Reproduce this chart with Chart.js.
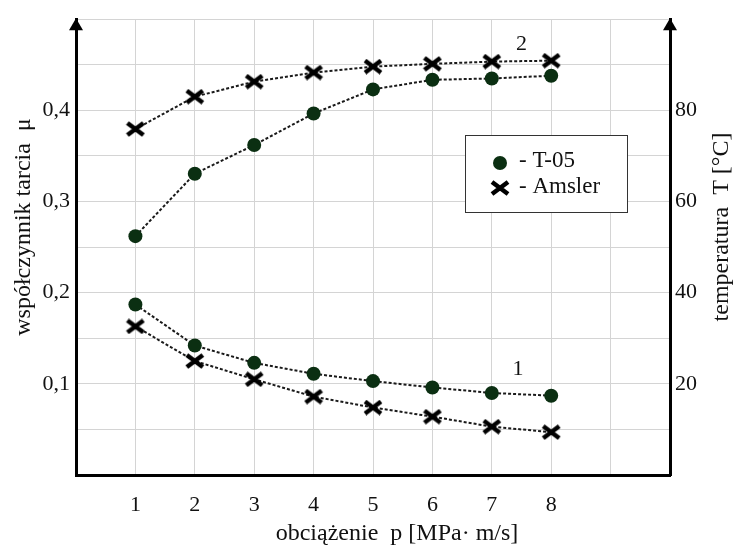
<!DOCTYPE html>
<html lang="pl">
<head>
  <meta charset="UTF-8">
  <title>Współczynnik tarcia i temperatura</title>
  <script src="https://cdn.jsdelivr.net/npm/chart.js"></script>
  <style>
    * { margin: 0; padding: 0; }
    body { background: #fff; width: 736px; height: 545px; overflow: hidden; }
    #wrap { position: relative; width: 736px; height: 545px; }
  </style>
</head>
<body>
<div id="wrap"><canvas id="chart" width="736" height="545"></canvas></div>

<script>
  // data
  const loads = [1, 2, 3, 4, 5, 6, 7, 8];
  const muT05 = [0.187, 0.142, 0.123, 0.111, 0.103, 0.096, 0.090, 0.087];
  const muAmsler = [0.163, 0.125, 0.105, 0.086, 0.074, 0.064, 0.053, 0.047];
  const tempT05 = [52.4, 66.1, 72.4, 79.3, 84.6, 86.7, 87.0, 87.6];
  const tempAmsler = [75.9, 83.0, 86.3, 88.3, 89.6, 90.2, 90.7, 90.9];
  const xTicks = [1, 2, 3, 4, 5, 6, 7, 8];
  const muTicks = [0.1, 0.2, 0.3, 0.4];
  const tempTicks = [20, 40, 60, 80];

  const serif = 'Liberation Serif';
  const green = '#0b2f12';
  const lineCol = '#1a1a1a';

  const pts = arr => arr.map((v, i) => ({ x: loads[i], y: v }));

  // flattened bold "x" marker like in the scan
  const crossImg = document.createElement('canvas');
  crossImg.width = 20; crossImg.height = 16;
  (() => {
    const c = crossImg.getContext('2d');
    c.strokeStyle = '#000';
    c.lineWidth = 4.5;
    c.lineCap = 'butt';
    c.beginPath();
    c.moveTo(2, 2); c.lineTo(18, 14);
    c.moveTo(18, 2); c.lineTo(2, 14);
    c.stroke();
  })();

  const dotStyle = { pointStyle: 'circle', pointRadius: 7, pointBackgroundColor: green, pointBorderColor: green, pointBorderWidth: 0 };
  const crossStyle = { pointStyle: crossImg, pointRadius: 10 };
  const lineStyle = { borderColor: lineCol, borderWidth: 2, borderDash: [3, 2], fill: false, tension: 0 };

  const extras = {
    id: 'extras',
    afterDraw(chart) {
      const { ctx, chartArea: a, scales } = chart;
      ctx.save();
      // arrows on the vertical axes
      ctx.fillStyle = '#000';
      [a.left, a.right].forEach(x => {
        ctx.beginPath();
        ctx.moveTo(x, a.top - 1);
        ctx.lineTo(x - 7, a.top + 11);
        ctx.lineTo(x + 7, a.top + 11);
        ctx.closePath();
        ctx.fill();
      });

      // curve numbers
      ctx.fillStyle = '#111';
      ctx.font = '22px "' + serif + '"';
      ctx.textAlign = 'center';
      ctx.textBaseline = 'middle';
      ctx.fillText('2', scales.x.getPixelForValue(7.5), scales.y.getPixelForValue(0.473));
      ctx.fillText('1', scales.x.getPixelForValue(7.44), scales.y.getPixelForValue(0.116));

      // legend box
      const lx = a.left + 389, ly = 135, lw = 162, lh = 77;
      ctx.fillStyle = '#fff';
      ctx.fillRect(lx, ly, lw, lh);
      ctx.strokeStyle = '#333';
      ctx.lineWidth = 1;
      ctx.strokeRect(lx + 0.5, ly + 0.5, lw, lh);
      ctx.fillStyle = green;
      ctx.beginPath();
      ctx.arc(lx + 35, ly + 28, 7, 0, Math.PI * 2);
      ctx.fill();
      ctx.drawImage(crossImg, lx + 25, ly + 45);
      ctx.fillStyle = '#111';
      ctx.font = '23px "' + serif + '"';
      ctx.textAlign = 'left';
      ctx.fillText('- T-05', lx + 54, ly + 26);
      ctx.fillText('- Amsler', lx + 54, ly + 52);

      // axis titles
      ctx.font = '24px "' + serif + '"';
      ctx.textAlign = 'center';
      ctx.textBaseline = 'alphabetic';
      ctx.fillText('obciążenie  p [MPa· m/s]', 397, 540);

      ctx.save();
      ctx.translate(30, 227);
      ctx.rotate(-Math.PI / 2);
      ctx.fillText('współczynnik tarcia  μ', 0, 0);
      ctx.restore();

      ctx.translate(728, 227);
      ctx.rotate(-Math.PI / 2);
      ctx.fillText('temperatura  T [°C]', 0, 0);
      ctx.restore();
    }
  };

  new Chart(document.getElementById('chart'), {
    type: 'line',
    data: {
      datasets: [
        { label: 'T-05', data: pts(muT05), yAxisID: 'y', ...lineStyle, ...dotStyle },
        { label: 'Amsler', data: pts(muAmsler), yAxisID: 'y', ...lineStyle, ...crossStyle },
        { label: 'T-05 T', data: pts(tempT05), yAxisID: 'y2', ...lineStyle, ...dotStyle },
        { label: 'Amsler T', data: pts(tempAmsler), yAxisID: 'y2', ...lineStyle, ...crossStyle }
      ]
    },
    options: {
      responsive: false,
      animation: false,
      layout: { padding: { top: 14 } },
      plugins: { legend: { display: false }, tooltip: { enabled: false } },
      scales: {
        x: {
          type: 'linear', min: 0, max: 10,
          afterFit: s => { s.height = 70; },
          ticks: {
            stepSize: 1, padding: 17, color: '#111',
            font: { family: serif, size: 22 },
            callback: v => xTicks.includes(v) ? String(v) : ''
          },
          grid: { color: '#d4d4d4', drawTicks: false },
          border: { color: '#000', width: 3 }
        },
        y: {
          position: 'left', min: 0, max: 0.5,
          afterFit: s => { s.width = 76; },
          ticks: {
            stepSize: 0.05, padding: 6, color: '#111',
            font: { family: serif, size: 22 },
            callback: v => muTicks.some(t => Math.abs(t - v) < 1e-6) ? v.toFixed(1).replace('.', ',') : ''
          },
          grid: { color: '#d4d4d4', drawTicks: false },
          border: { color: '#000', width: 3 }
        },
        y2: {
          position: 'right', min: 0, max: 100,
          afterFit: s => { s.width = 66; },
          ticks: {
            stepSize: 10, padding: 5, color: '#111',
            font: { family: serif, size: 22 },
            callback: v => tempTicks.includes(v) ? String(v) : ''
          },
          grid: { drawOnChartArea: false, drawTicks: false },
          border: { color: '#000', width: 3 }
        }
      }
    },
    plugins: [extras]
  });
</script>
</body>
</html>
